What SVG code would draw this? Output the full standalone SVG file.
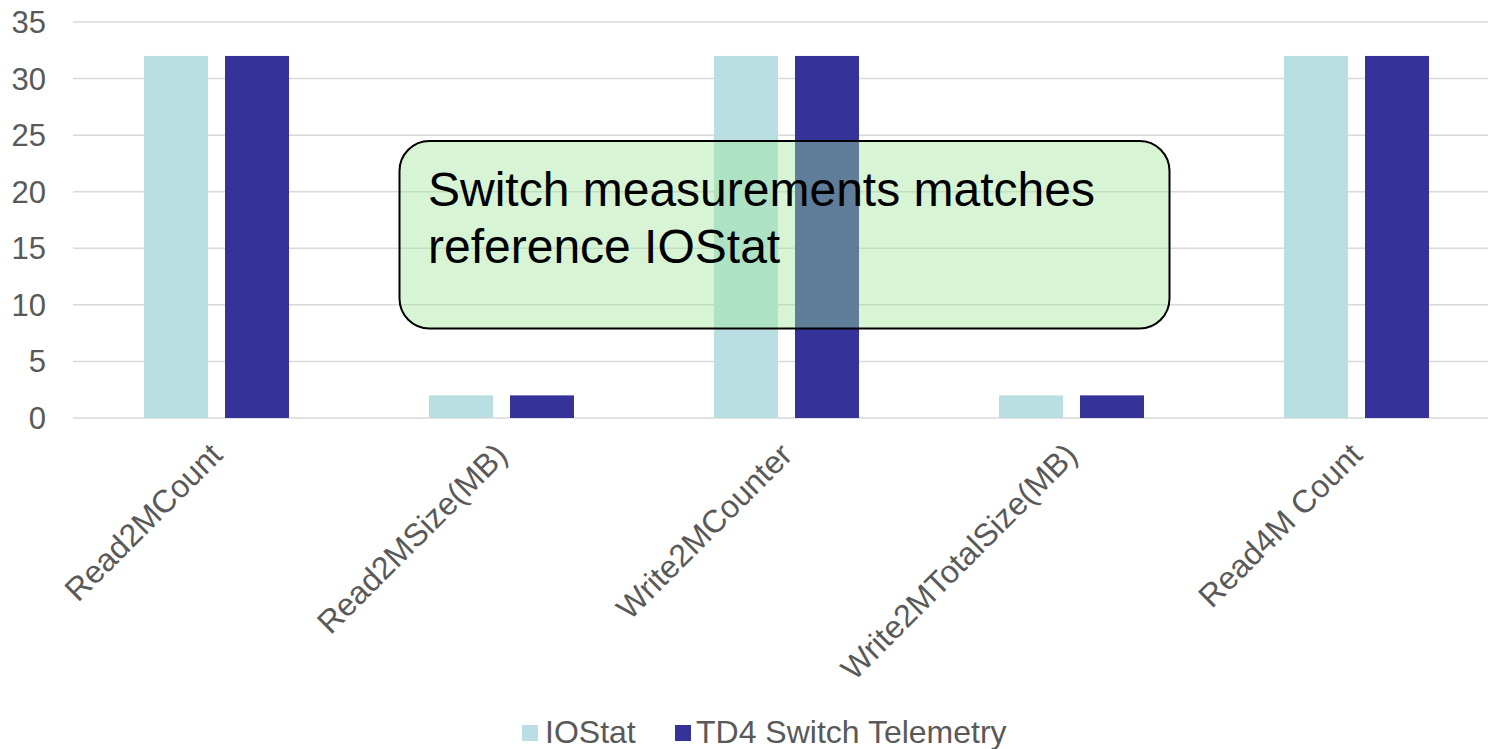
<svg xmlns="http://www.w3.org/2000/svg" width="1488" height="749" viewBox="0 0 1488 749">
<style>
.grid{stroke:#d9d9d9;stroke-width:1.5;fill:none}
.ax{font-family:"Liberation Sans",Arial,sans-serif;font-size:32px;fill:#595959}
.tk{font-size:31px}
.tick{text-anchor:end}
.io{fill:#badfe3}
.td{fill:#35339a}
.call{font-family:"Liberation Sans",Arial,sans-serif;font-size:48px;fill:#000}
</style>
<rect width="1488" height="749" fill="#fff"/>
<g id="gridlines">
<line class="grid" x1="73" y1="418" x2="1488" y2="418"/>
<line class="grid" x1="73" y1="361.43" x2="1488" y2="361.43"/>
<line class="grid" x1="73" y1="304.86" x2="1488" y2="304.86"/>
<line class="grid" x1="73" y1="248.29" x2="1488" y2="248.29"/>
<line class="grid" x1="73" y1="191.71" x2="1488" y2="191.71"/>
<line class="grid" x1="73" y1="135.14" x2="1488" y2="135.14"/>
<line class="grid" x1="73" y1="78.57" x2="1488" y2="78.57"/>
<line class="grid" x1="73" y1="22" x2="1488" y2="22"/>
</g>
<g id="y-axis" class="ax tk tick">
<text x="46" y="429">0</text>
<text x="46" y="372.4">5</text>
<text x="46" y="315.9">10</text>
<text x="46" y="259.3">15</text>
<text x="46" y="202.7">20</text>
<text x="46" y="146.1">25</text>
<text x="46" y="89.6">30</text>
<text x="46" y="33">35</text>
</g>
<g id="bars">
<rect class="io" x="144" y="55.94" width="64" height="362.06"/>
<rect class="td" x="225" y="55.94" width="64" height="362.06"/>
<rect class="io" x="429" y="395.37" width="64" height="22.63"/>
<rect class="td" x="510" y="395.37" width="64" height="22.63"/>
<rect class="io" x="714" y="55.94" width="64" height="362.06"/>
<rect class="td" x="795" y="55.94" width="64" height="362.06"/>
<rect class="io" x="999" y="395.37" width="64" height="22.63"/>
<rect class="td" x="1080" y="395.37" width="64" height="22.63"/>
<rect class="io" x="1284" y="55.94" width="64" height="362.06"/>
<rect class="td" x="1365" y="55.94" width="64" height="362.06"/>
</g>
<g id="x-axis" class="ax tick">
<text transform="translate(224,457) rotate(-45)">Read2MCount</text>
<text transform="translate(509,457) rotate(-45)">Read2MSize(MB)</text>
<text transform="translate(794,457) rotate(-45)">Write2MCounter</text>
<text transform="translate(1079,457) rotate(-45)">Write2MTotalSize(MB)</text>
<text transform="translate(1364,457) rotate(-45)">Read4M Count</text>
</g>
<g id="legend" class="ax">
<rect class="io" x="522" y="725" width="16" height="16"/>
<text x="545" y="743">IOStat</text>
<rect class="td" x="675" y="725" width="16" height="16"/>
<text x="696" y="743">TD4 Switch Telemetry</text>
</g>
<g id="callout">
<rect x="399.5" y="141" width="770" height="187.5" rx="30" ry="30" fill="#9fe69a" fill-opacity="0.41" stroke="#000" stroke-width="2"/>
<text class="call" x="428" y="206">Switch measurements matches</text>
<text class="call" x="428" y="263">reference IOStat</text>
</g>
</svg>
